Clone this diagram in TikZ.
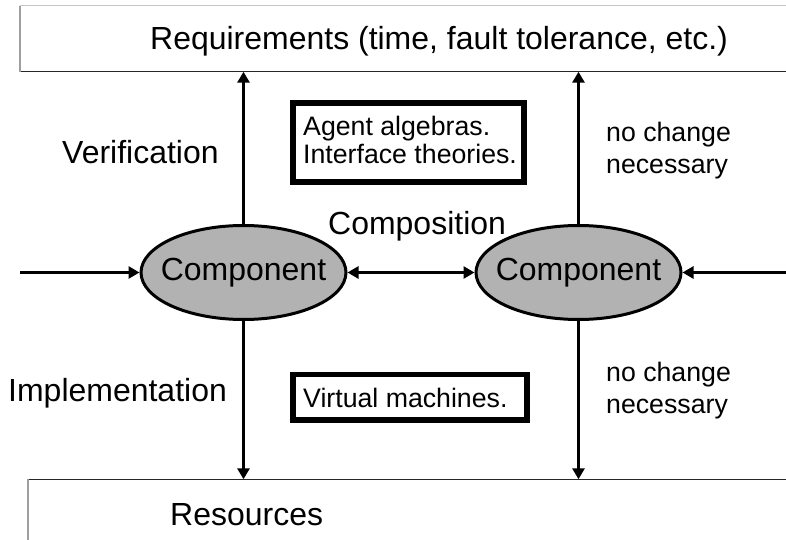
\documentclass[tikz,border=0pt]{standalone}
\usepackage{fontspec}
\setmainfont{Liberation Sans}
\usetikzlibrary{arrows.meta,shapes.geometric}
\definecolor{compgray}{RGB}{178,178,178}
\begin{document}
\begin{tikzpicture}[x=1bp,y=-1bp,
  tip/.tip={Triangle[length=11bp,width=12bp]},
  conn/.style={line width=3bp,-tip},
  biconn/.style={line width=3bp,tip-tip},
  comp/.style={ellipse,draw,line width=3bp,fill=compgray,minimum width=205bp,
    minimum height=94bp,inner sep=0pt,font=\fontsize{32.1}{38}\selectfont},
  bigtext/.style={inner sep=0pt,anchor=base west,font=\fontsize{32.1}{38}\selectfont},
  smalltext/.style={inner sep=0pt,anchor=base west,align=left,font=\fontsize{26.8}{29}\selectfont},
  thickbox/.style={draw,rectangle,line width=5.7bp,inner sep=0pt},
  layerbox/.style={rectangle,inner sep=0pt,fill=white,anchor=north west,minimum width=800bp},
]
\useasboundingbox (0,0) rectangle (786,540);
\clip (0,0) rectangle (786,540);

% requirement layer (open to the right)
\node[layerbox,minimum height=65.5bp] (reqbox) at (20.3,5.8) {};
\draw[gray!45,line width=1.2bp] (reqbox.north west) -- (reqbox.north east);
\draw[black!85,line width=1.2bp] (reqbox.south west) -- (reqbox.south east);
\draw[gray!75,line width=2bp] (reqbox.south west) -- (reqbox.north west);
\node[bigtext] (reqtext) at (150,50) {Requirements (time, fault tolerance, etc.)};

% resource layer (open to the right and below)
\node[layerbox,minimum height=80bp] (resbox) at (27.7,479.3) {};
\draw[black!85,line width=1.2bp] (resbox.north west) -- (resbox.north east);
\draw[gray!75,line width=2bp] (resbox.south west) -- (resbox.north west);
\node[bigtext] (restext) at (170,525) {Resources};

% the two components (text boxed at zero width so the ellipse keeps its size)
\node[comp] (c1) at (243.5,272.5) {\makebox[0pt]{Component}};
\node[comp] (c2) at (578.5,272.5) {\makebox[0pt]{Component}};

% boxes of theories
\node[thickbox,minimum width=230.8bp,minimum height=79.3bp] (agentbox) at (408.25,142.5) {};
\node[smalltext] (agenttext) at (303,164) {Agent algebras.\\Interface theories.};
\node[thickbox,minimum width=234.3bp,minimum height=45.6bp] (vmbox) at (410,397.35) {};
\node[smalltext] (vmtext) at (303,407) {Virtual machines.};

% side labels
\node[bigtext] (verif) at (62,163.5) {Verification};
\node[bigtext] (impl) at (8,401.5) {Implementation};
\node[bigtext] (compos) at (328,235) {Composition};
\node[smalltext,font=\fontsize{26.8}{31.6}\selectfont] (nc1) at (606,173.3) {no change\\necessary};
\node[smalltext,font=\fontsize{26.8}{31.6}\selectfont] (nc2) at (606,413.3) {no change\\necessary};

% connectors
\coordinate (lin) at (20,272.5);
\coordinate (rin) at (790,272.5);
\draw[conn] (lin) -- (c1.west);
\draw[conn] (rin) -- (c2.east);
\draw[biconn] (c1.east) -- (c2.west);
\draw[conn] (c1.north) -- (reqbox.south -| c1.north);
\draw[conn] (c2.north) -- (reqbox.south -| c2.north);
\draw[conn] (c1.south) -- (resbox.north -| c1.south);
\draw[conn] (c2.south) -- (resbox.north -| c2.south);
\end{tikzpicture}
\end{document}
